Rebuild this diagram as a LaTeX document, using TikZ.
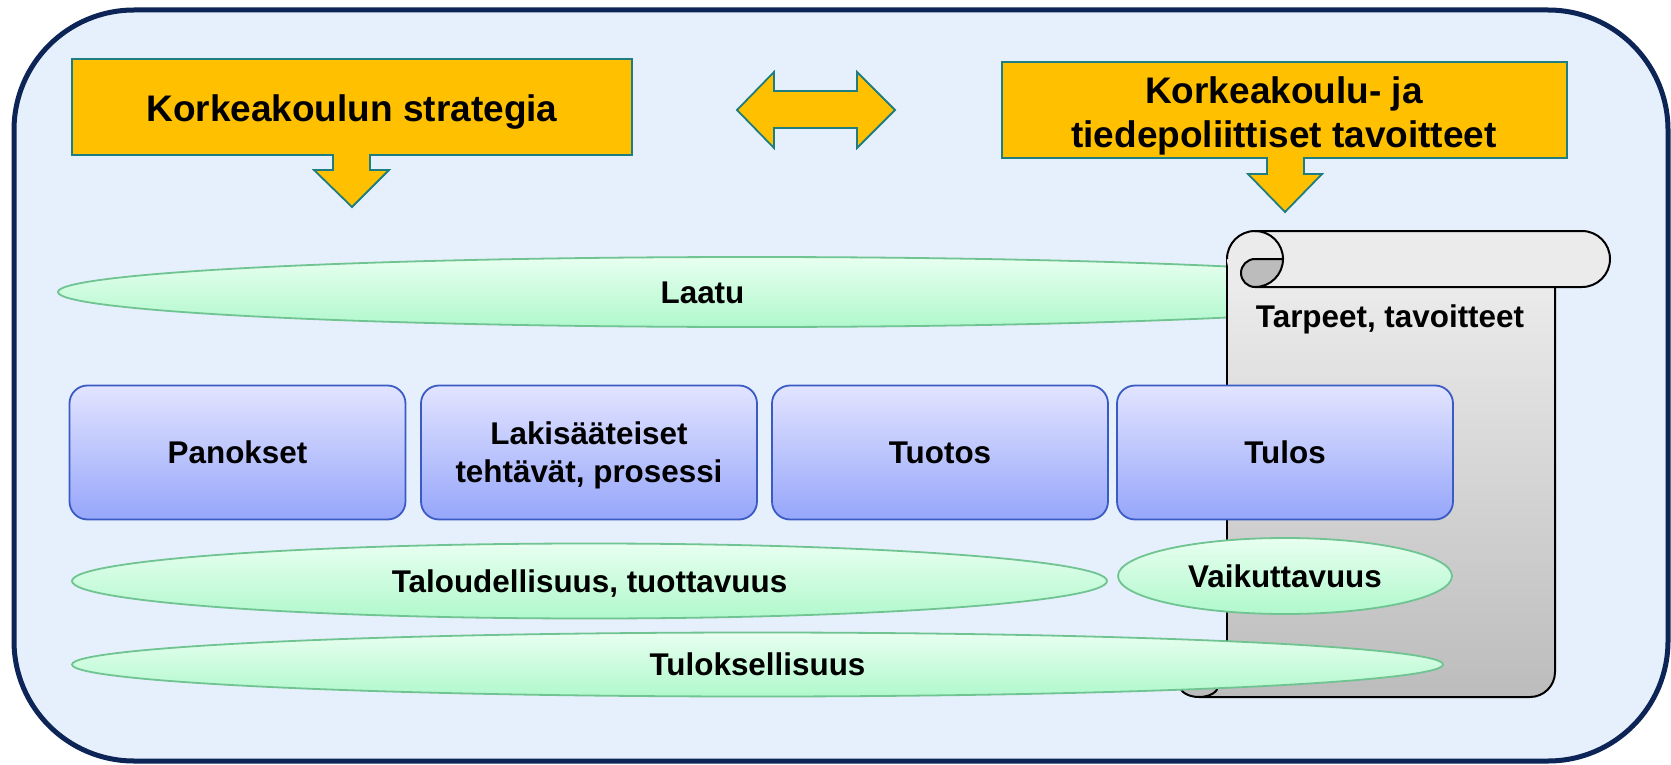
\documentclass[tikz,border=0pt]{standalone}
\usepackage{fontspec}
\setmainfont{Liberation Sans}
\usetikzlibrary{shapes.geometric}
\definecolor{bgblue}{RGB}{230,240,252}
\definecolor{navy}{RGB}{12,36,86}
\definecolor{gold}{RGB}{255,192,0}
\definecolor{tealline}{RGB}{30,125,128}
\definecolor{boxtop}{RGB}{226,228,255}
\definecolor{boxbot}{RGB}{150,166,250}
\definecolor{boxline}{RGB}{58,90,196}
\definecolor{eltop}{RGB}{232,255,240}
\definecolor{elbot}{RGB}{176,248,204}
\definecolor{elline}{RGB}{112,196,146}
\definecolor{scrtop}{RGB}{238,238,238}
\definecolor{scrbot}{RGB}{188,188,188}
\definecolor{rollfill}{RGB}{235,235,235}
\definecolor{curlfill}{RGB}{188,188,188}
\begin{document}
\begin{tikzpicture}[x=0.5pt,y=-0.5pt,
 yellowshape/.style={fill=gold,draw=tealline,line width=0.9pt},
 bigtxt/.style={font=\bfseries\fontsize{18.5}{22}\selectfont,align=center,inner sep=0pt},
 bigone/.style={bigtxt,text height=13.25pt,text depth=0pt},
 smalltxt/.style={font=\bfseries\fontsize{15.7}{19}\selectfont,align=center,inner sep=0pt},
 smallone/.style={smalltxt,text height=11.25pt,text depth=0pt},
 bluebox/.style={rectangle,rounded corners=9pt,draw=boxline,line width=0.9pt,top color=boxtop,bottom color=boxbot,minimum width=168pt,minimum height=67pt},
 greenell/.style={ellipse,draw=elline,line width=0.9pt,top color=eltop,bottom color=elbot,inner sep=0pt},
 scrollline/.style={draw=black,line width=1pt}
]
\useasboundingbox (0,0) rectangle (1671,765);
\fill[white] (0,0) rectangle (1671,765);
% outer frame
\draw[fill=bgblue,draw=navy,line width=2.5pt,rounded corners=60pt] (14,10) rectangle (1668,761);

% yellow callout 1
\draw[yellowshape] (72,59) -- (632,59) -- (632,155) -- (370,155) -- (370,170) -- (389,170) -- (352,207) -- (314,170) -- (333,170) -- (333,155) -- (72,155) -- cycle;
\node[bigone] (strat) at (352,108) {Korkeakoulun strategia};

% yellow callout 2
\draw[yellowshape] (1002,62) -- (1567,62) -- (1567,158) -- (1304,158) -- (1304,174) -- (1322,174) -- (1285,212) -- (1248,174) -- (1267,174) -- (1267,158) -- (1002,158) -- cycle;
\node[bigtxt] (kpol) at (1284,115.5) {Korkeakoulu- ja\\tiedepoliittiset tavoitteet};

% double arrow
\draw[yellowshape] (737,110) -- (774,72) -- (774,91) -- (857,91) -- (857,72) -- (895,110) -- (857,148) -- (857,128) -- (774,128) -- (774,148) -- cycle;

% Laatu ellipse
\node[greenell,minimum width=694pt,minimum height=35pt] (laatuell) at (752,292) {};
\node[smallone] (laatu) at (702.5,292.5) {Laatu};

% scroll
\path[top color=scrtop,bottom color=scrbot] (1227,259) -- (1227,680) -- (1199,680) -- (1199,697) -- (1530,697) arc[start angle=90,end angle=0,radius=25] -- (1555,287) -- (1283,287) -- cycle;
\draw[scrollline] (1227,259) -- (1227,680);
\draw[scrollline] (1199,697) -- (1530,697) arc[start angle=90,end angle=0,radius=25] -- (1555,287);
\draw[scrollline,fill=curlfill] (1180,680) -- (1180,686) arc[start angle=180,end angle=0,x radius=19,y radius=11] -- (1218,680) -- cycle;
\fill[rollfill] (1255,231) -- (1582,231) arc[start angle=-90,end angle=90,radius=28] -- (1255,287) arc[start angle=90,end angle=270,radius=28] -- cycle;
\draw[scrollline] (1227,259) arc[start angle=180,end angle=270,radius=28] -- (1582,231) arc[start angle=-90,end angle=90,radius=28] -- (1255,287);
\draw[scrollline,fill=curlfill] (1255,259) -- (1283,259) arc[start angle=0,end angle=90,radius=28] arc[start angle=90,end angle=270,radius=14] -- cycle;
\draw[scrollline] (1255,231) arc[start angle=270,end angle=360,radius=28];
\node[smallone] (tarp) at (1390,316) {Tarpeet, tavoitteet};

% blue boxes
\node[bluebox,smallone] (pan) at (237.5,452.5) {Panokset};
\node[bluebox] (lak) at (589,452.5) {};
\node[smalltxt] (laktxt) at (589,455.5) {Lakisääteiset\\tehtävät, prosessi};
\node[bluebox,smallone] (tuo) at (940,452.5) {Tuotos};
\node[bluebox,smallone] (tul) at (1285,452.5) {Tulos};

% lower ellipses
\node[greenell,smallone,minimum width=517.5pt,minimum height=37.5pt] (talo) at (589.5,581) {Taloudellisuus, tuottavuus};
\node[greenell,smallone,minimum width=167pt,minimum height=38pt] (vaik) at (1285,576) {Vaikuttavuus};
\node[greenell,smallone,minimum width=685.5pt,minimum height=32pt] (tulok) at (757.5,664.5) {Tuloksellisuus};
\end{tikzpicture}
\end{document}
